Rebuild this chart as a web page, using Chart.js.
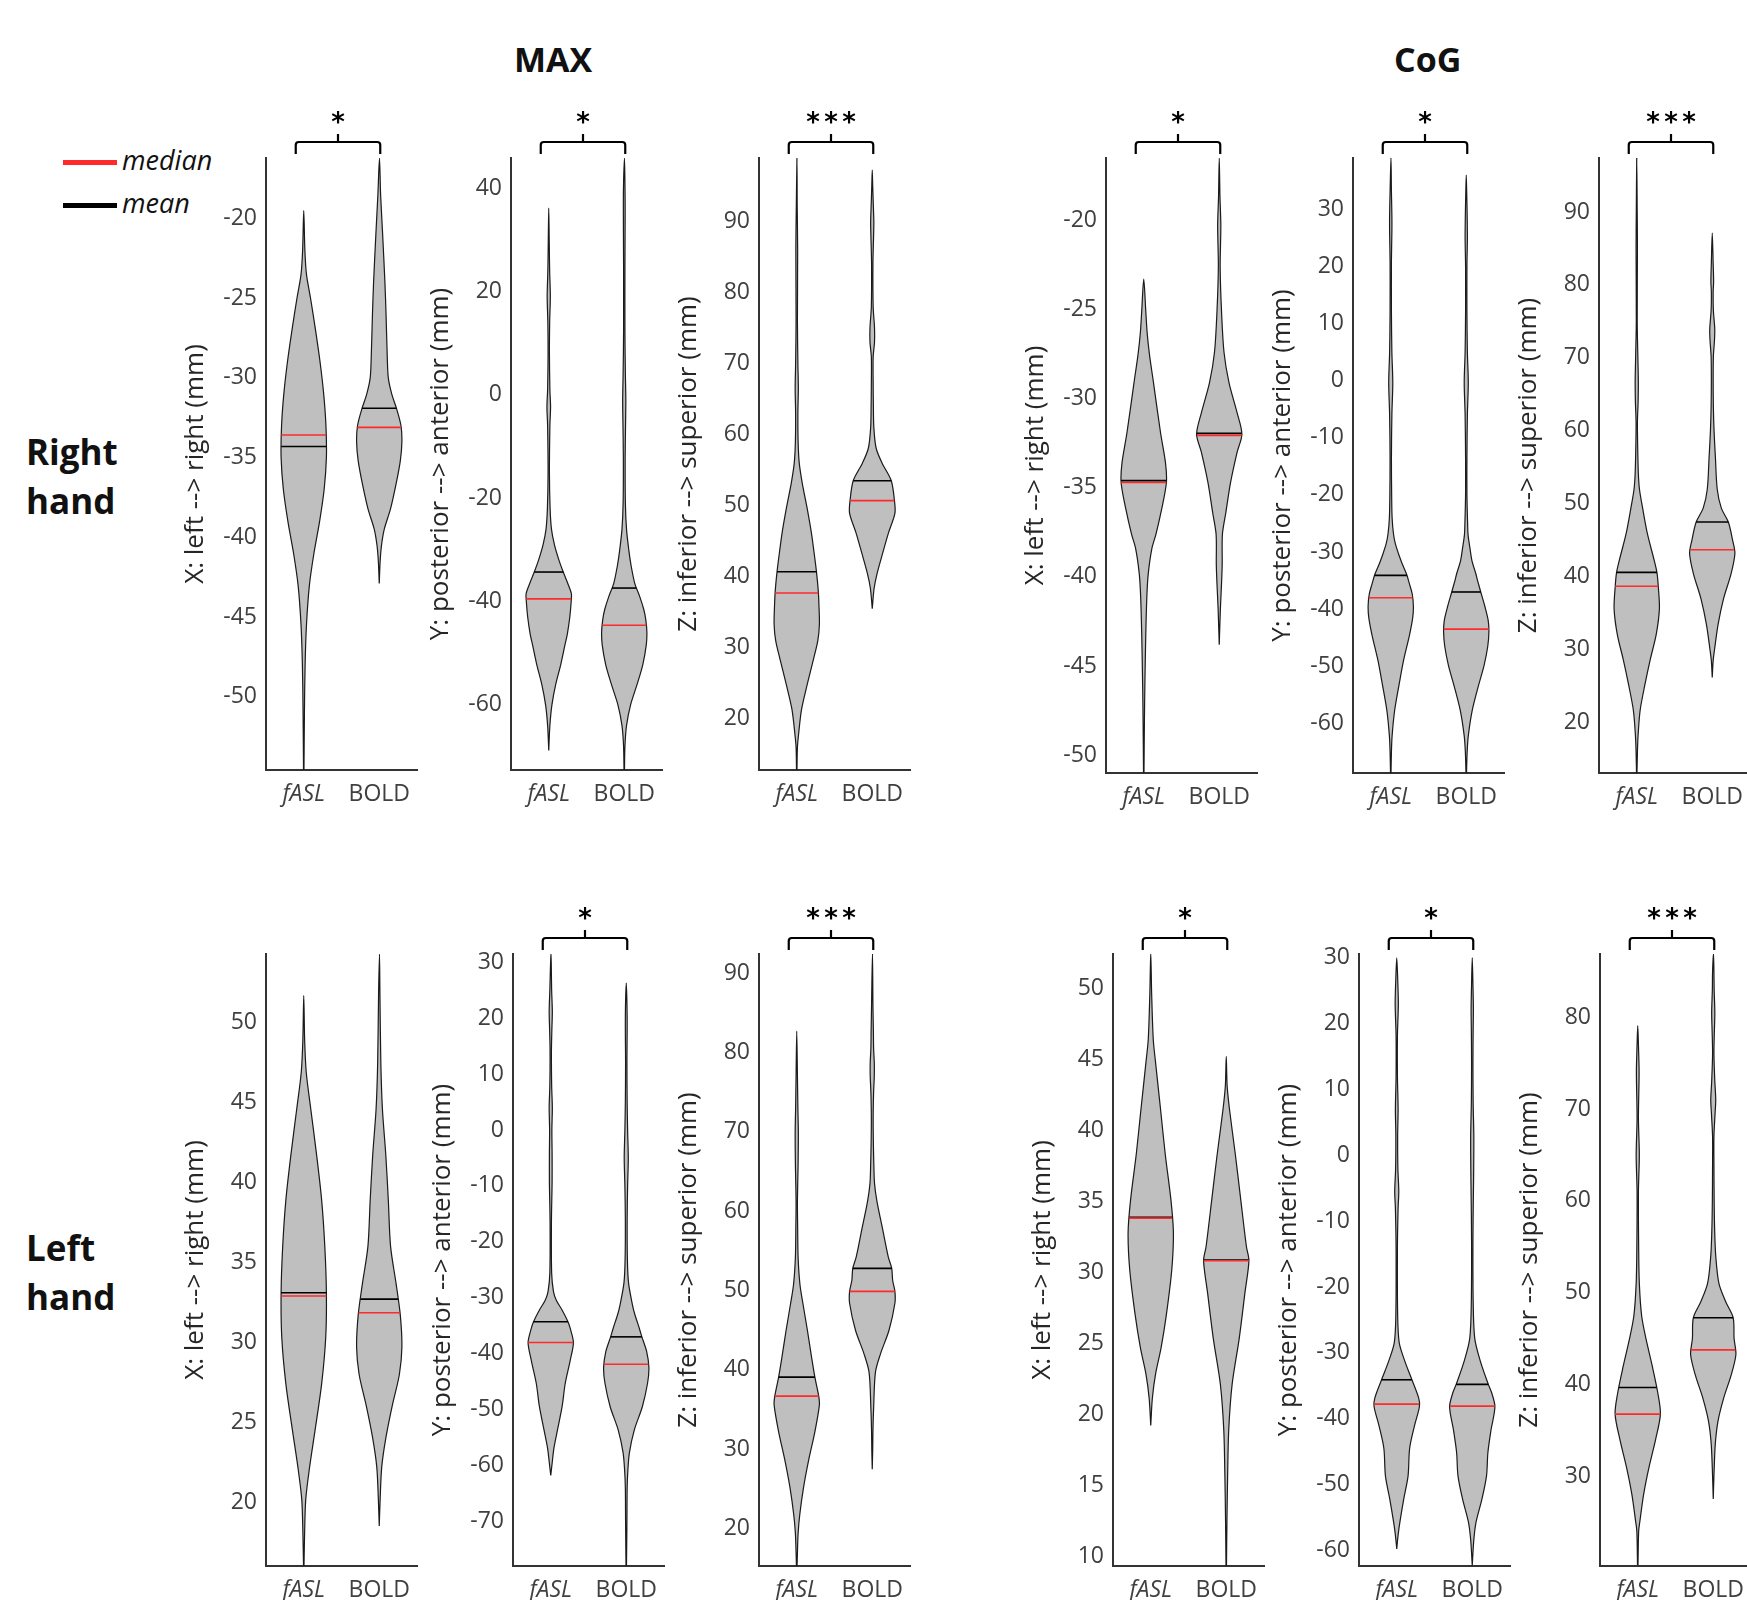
<!DOCTYPE html>
<html><head><meta charset="utf-8">
<script src="https://cdn.jsdelivr.net/npm/chart.js@4.4.1/dist/chart.umd.min.js"></script>
<style>
html,body{margin:0;padding:0;background:#fff;overflow:hidden;width:1747px;height:1600px;}
#wrap{position:relative;width:1747px;height:1600px;overflow:hidden;}
canvas{position:absolute;}
.t{position:absolute;font-family:'Open Sans',sans-serif;color:#111;white-space:nowrap;line-height:1;}
.bold{font-weight:700;}
.sw{position:absolute;height:5px;}
</style></head><body><div id="wrap">
<div class="t bold" style="left:514px;top:42px;font-size:34px;">MAX</div>
<div class="t bold" style="left:1394px;top:42px;font-size:34px;">CoG</div>
<div class="t bold" style="left:26px;top:434px;font-size:35px;">Right</div>
<div class="t bold" style="left:26px;top:483px;font-size:35px;">hand</div>
<div class="t bold" style="left:26px;top:1230px;font-size:35px;">Left</div>
<div class="t bold" style="left:26px;top:1279px;font-size:35px;">hand</div>
<div class="sw" style="left:63px;top:160px;width:54px;background:#ff2a2a;"></div>
<div class="t" style="left:122px;top:146px;font-size:27px;font-style:italic;">median</div>
<div class="sw" style="left:63px;top:203px;width:54px;background:#000;"></div>
<div class="t" style="left:122px;top:189px;font-size:27px;font-style:italic;">mean</div>
</div>
<script>
// ---------- DATA ----------
const GROUPS = ['fASL', 'BOLD'];
const TITLE_X = 'X: left --> right (mm)';
const TITLE_Y = 'Y: posterior --> anterior (mm)';
const TITLE_Z = 'Z: inferior --> superior (mm)';
const SIG = ['*', '*', '***', '*', '*', '***', '', '*', '***', '*', '*', '***'];

// violin profiles: [value (mm), relative density width]
const RH_MAX_X_FASL = [[-54.6,0.01],[-51,0.03],[-48,0.06],[-45.5,0.12],[-43,0.25],[-41,0.45],[-39,0.7],[-37,0.9],[-35,1.0],[-33,0.98],[-31,0.88],[-29,0.72],[-27,0.52],[-25,0.3],[-23.5,0.12],[-22,0.05],[-19.5,0]];
const RH_MAX_X_BOLD = [[-42.9,0],[-41.5,0.04],[-40.5,0.1],[-39.5,0.22],[-38.2,0.5],[-36.6,0.75],[-35.2,0.93],[-34,1.0],[-33,0.96],[-32,0.78],[-31,0.55],[-30,0.4],[-28.5,0.35],[-26,0.3],[-24,0.25],[-21,0.15],[-18.5,0.06],[-16.2,0.01]];
const RH_MAX_X_MEAN = [-34.3, -31.9];
const RH_MAX_X_MEDIAN = [-33.58, -33.1];
const RH_MAX_X_TICKS = [-50, -45, -40, -35, -30, -25, -20];
const RH_MAX_X_RANGE = [-54.6, -16.2];

const RH_MAX_Y_FASL = [[-68.8,0],[-64,0.05],[-60,0.14],[-56,0.31],[-52.2,0.53],[-48.3,0.72],[-46.3,0.82],[-43,0.93],[-40,0.99],[-38.5,1.0],[-36.6,0.85],[-34.3,0.64],[-32,0.45],[-29,0.25],[-26,0.12],[-22,0.06],[-15,0.03],[-6,0.05],[-2.4,0.08],[1,0.05],[8,0.03],[14,0.04],[19,0.07],[24,0.04],[30,0.02],[36.1,0]];
const RH_MAX_Y_BOLD = [[-72.6,0.01],[-68,0.03],[-64,0.1],[-60,0.28],[-56,0.57],[-52.2,0.82],[-48.5,0.97],[-46,1.0],[-43.5,0.95],[-41.5,0.86],[-39,0.68],[-36.6,0.47],[-33,0.3],[-30,0.2],[-26,0.1],[-21,0.05],[-12,0.04],[-5,0.06],[-1,0.07],[4,0.05],[12,0.03],[25,0.03],[36,0.04],[41,0.03],[45.8,0.01]];
const RH_MAX_Y_MEAN = [-34.3, -37.4];
const RH_MAX_Y_MEDIAN = [-39.5, -44.6];
const RH_MAX_Y_TICKS = [-60, -40, -20, 0, 20, 40];
const RH_MAX_Y_RANGE = [-72.6, 45.8];

const RH_MAX_Z_FASL = [[12.8,0.01],[16,0.03],[17.8,0.08],[21.3,0.21],[24.8,0.46],[28.4,0.74],[31,0.93],[33.3,1.0],[36,0.98],[38,0.95],[40.7,0.87],[43.5,0.76],[46.1,0.65],[49.6,0.46],[53.2,0.24],[56,0.11],[59,0.06],[63,0.05],[66.5,0.07],[70,0.05],[76,0.03],[86,0.04],[92,0.02],[98.85,0.01]];
const RH_MAX_Z_BOLD = [[35.5,0],[38.3,0.08],[40.4,0.21],[43.3,0.46],[46.1,0.71],[48.9,1.0],[50.7,0.98],[53.5,0.84],[56,0.43],[58.1,0.17],[61,0.07],[64,0.05],[67,0.04],[70.9,0.04],[73,0.1],[75,0.1],[78,0.04],[84,0.03],[88,0.06],[90,0.07],[92,0.05],[95,0.02],[97.2,0]];
const RH_MAX_Z_MEAN = [40.7, 53.5];
const RH_MAX_Z_MEDIAN = [37.7, 50.7];
const RH_MAX_Z_TICKS = [20, 30, 40, 50, 60, 70, 80, 90];
const RH_MAX_Z_RANGE = [12.8, 98.9];

const RH_COG_X_FASL = [[-51,0.01],[-48,0.03],[-46,0.05],[-43.2,0.09],[-41,0.14],[-39.8,0.2],[-38.4,0.36],[-37.6,0.54],[-36.2,0.79],[-34.7,1.0],[-33.6,0.96],[-31.9,0.74],[-29.1,0.43],[-27.5,0.25],[-26.3,0.15],[-25.1,0.09],[-23.3,0]];
const RH_COG_X_BOLD = [[-43.8,0],[-41.8,0.05],[-40.4,0.1],[-39.3,0.13],[-37.6,0.14],[-36.4,0.29],[-34.7,0.5],[-33,0.79],[-32,1.0],[-30.8,0.79],[-29.1,0.43],[-27.4,0.21],[-25.1,0.1],[-22.6,0.04],[-20.3,0.07],[-18.6,0.03],[-16.5,0]];
const RH_COG_X_MEAN = [-34.6, -31.95];
const RH_COG_X_MEDIAN = [-34.7, -32.06];
const RH_COG_X_TICKS = [-50, -45, -40, -35, -30, -25, -20];
const RH_COG_X_RANGE = [-51, -16.5];

const RH_COG_Y_FASL = [[-68.85,0.01],[-65,0.03],[-62.2,0.06],[-57.8,0.17],[-53.4,0.36],[-48.9,0.57],[-44.5,0.83],[-41.5,0.97],[-39.5,1.0],[-37.4,0.95],[-35.5,0.82],[-33.9,0.7],[-32,0.5],[-30.4,0.35],[-28.5,0.2],[-26.8,0.12],[-24,0.06],[-20,0.04],[-13.5,0.03],[-6,0.05],[-0.3,0.09],[5,0.05],[12,0.03],[21,0.03],[26,0.05],[29,0.05],[33,0.03],[39.1,0.01]];
const RH_COG_Y_BOLD = [[-68.85,0.01],[-65,0.04],[-62.2,0.09],[-57.8,0.26],[-53.4,0.54],[-49.8,0.79],[-46.5,0.95],[-44,1.0],[-42,0.97],[-39.5,0.82],[-37,0.64],[-35,0.5],[-33.9,0.43],[-31.5,0.25],[-29.5,0.17],[-27,0.08],[-25,0.06],[-20,0.03],[-13.5,0.03],[-6,0.05],[-0.3,0.09],[5,0.05],[12,0.03],[20,0.03],[25,0.05],[29,0.04],[33,0.02],[36,0]];
const RH_COG_Y_MEAN = [-34.1, -37];
const RH_COG_Y_MEDIAN = [-38, -43.5];
const RH_COG_Y_TICKS = [-60, -50, -40, -30, -20, -10, 0, 10, 20, 30];
const RH_COG_Y_RANGE = [-68.7, 39];

const RH_COG_Z_FASL = [[13.1,0.01],[16,0.03],[18.3,0.06],[21.7,0.15],[25.2,0.36],[28.7,0.6],[32.1,0.86],[35.6,1.0],[38.7,0.95],[40.6,0.89],[42.5,0.75],[45.9,0.47],[49.4,0.26],[52,0.12],[54.2,0.07],[58,0.04],[61.2,0.03],[64,0.06],[66.7,0.07],[70,0.05],[75,0.02],[85,0.03],[90,0.02],[97.5,0]];
const RH_COG_Z_BOLD = [[26.2,0],[28.5,0.04],[30,0.1],[33.5,0.26],[37,0.5],[40.4,0.83],[43.2,1.0],[45,0.9],[47.5,0.71],[49.4,0.4],[52,0.22],[56.3,0.14],[60,0.08],[63.2,0.05],[67,0.04],[70.2,0.05],[72.5,0.1],[74,0.11],[76.5,0.05],[79,0.04],[80.5,0.06],[83,0.04],[87.1,0]];
const RH_COG_Z_MEAN = [40.6, 47.5];
const RH_COG_Z_MEDIAN = [38.7, 43.7];
const RH_COG_Z_TICKS = [20, 30, 40, 50, 60, 70, 80, 90];
const RH_COG_Z_RANGE = [13.1, 97.4];

const LH_MAX_X_FASL = [[16,0.01],[18.2,0.04],[20.2,0.09],[22.2,0.26],[24.5,0.5],[27.4,0.79],[30.3,0.97],[33.1,1.0],[36,0.93],[38.9,0.79],[41.7,0.57],[44.6,0.31],[46.9,0.11],[48.9,0.04],[51.7,0]];
const LH_MAX_X_BOLD = [[18.5,0],[20.2,0.04],[22.2,0.11],[24,0.29],[26,0.57],[28,0.89],[29.7,1.0],[31.7,0.93],[33.7,0.74],[36,0.5],[38.9,0.4],[41.7,0.29],[44.6,0.14],[47.5,0.07],[51.8,0.03],[54.3,0.01]];
const LH_MAX_X_MEAN = [33.1, 32.7];
const LH_MAX_X_MEDIAN = [32.9, 31.85];
const LH_MAX_X_TICKS = [20, 25, 30, 35, 40, 45, 50];
const LH_MAX_X_RANGE = [16, 54.3];

const LH_MAX_Y_FASL = [[-61.8,0],[-59.3,0.07],[-56.9,0.14],[-53.6,0.3],[-49.5,0.5],[-45.3,0.64],[-41.2,0.86],[-38,1.0],[-35.5,0.86],[-34.3,0.76],[-32.2,0.5],[-30.5,0.25],[-28.9,0.12],[-25.6,0.04],[-16.6,0.03],[-9.2,0.06],[-4.3,0.06],[0,0.05],[4,0.07],[8,0.04],[14,0.03],[18,0.05],[21.2,0.07],[25,0.04],[31.9,0.01]];
const LH_MAX_Y_BOLD = [[-78,0.01],[-70,0.03],[-64,0.04],[-61,0.07],[-57.7,0.14],[-53.6,0.36],[-49.5,0.71],[-45.3,0.94],[-42.5,1.0],[-39.6,0.9],[-37,0.69],[-35.5,0.58],[-33,0.38],[-31.4,0.28],[-27.3,0.1],[-23,0.05],[-16,0.04],[-10,0.06],[-5,0.09],[0,0.06],[5,0.04],[12,0.03],[20,0.04],[26.3,0]];
const LH_MAX_Y_MEAN = [-34.3, -37];
const LH_MAX_Y_MEDIAN = [-38, -41.9];
const LH_MAX_Y_TICKS = [-70, -60, -50, -40, -30, -20, -10, 0, 10, 20, 30];
const LH_MAX_Y_RANGE = [-78, 31.5];

const LH_MAX_Z_FASL = [[14.9,0.01],[17,0.03],[19.4,0.06],[21.7,0.13],[25.2,0.3],[28.7,0.53],[32.2,0.8],[35.6,1.0],[36.7,0.97],[39.1,0.8],[41.5,0.66],[45,0.47],[48.4,0.27],[50.8,0.14],[54.2,0.06],[58,0.04],[61.2,0.03],[66,0.06],[69.9,0.07],[73,0.05],[77,0.03],[82.7,0]];
const LH_MAX_Z_BOLD = [[27.5,0],[30,0.02],[32.2,0.03],[35.1,0.06],[39.7,0.14],[42,0.36],[45,0.74],[48.4,1.0],[49.9,1.0],[51.3,0.9],[52.8,0.86],[54.2,0.71],[57.7,0.46],[61.2,0.21],[63.5,0.1],[65.9,0.07],[68.5,0.05],[71.7,0.04],[75,0.06],[77,0.09],[78.7,0.09],[80.5,0.06],[82.7,0.05],[86,0.03],[92.6,0.01]];
const LH_MAX_Z_MEAN = [39.1, 52.8];
const LH_MAX_Z_MEDIAN = [36.7, 49.9];
const LH_MAX_Z_TICKS = [20, 30, 40, 50, 60, 70, 80, 90];
const LH_MAX_Z_RANGE = [15.3, 92.4];

const LH_COG_X_FASL = [[19.2,0],[21.1,0.07],[22.8,0.21],[24.7,0.46],[27,0.69],[30.2,0.93],[32.8,1.0],[35.1,0.89],[38.3,0.64],[41.5,0.43],[44.8,0.21],[46.4,0.11],[49.6,0.04],[52.5,0]];
const LH_COG_X_BOLD = [[9.3,0.01],[12.4,0.03],[15.6,0.06],[18.9,0.11],[22.1,0.26],[25.3,0.57],[28.6,0.83],[30.8,1.0],[31.8,0.89],[35.1,0.64],[38.3,0.4],[41.5,0.14],[43.1,0.04],[45.2,0]];
const LH_COG_X_MEAN = [33.85, 30.85];
const LH_COG_X_MEDIAN = [33.8, 30.8];
const LH_COG_X_TICKS = [10, 15, 20, 25, 30, 35, 40, 45, 50];
const LH_COG_X_RANGE = [9.3, 52.4];

const LH_COG_Y_FASL = [[-59.8,0],[-57.7,0.06],[-55.7,0.14],[-52.2,0.31],[-48.7,0.5],[-44.5,0.57],[-41,0.79],[-38.2,1.0],[-36.9,0.97],[-34.1,0.67],[-31.3,0.36],[-28.5,0.11],[-24.3,0.04],[-13.9,0.03],[-8,0.06],[-5.5,0.09],[-2,0.05],[3,0.04],[7,0.06],[12,0.03],[18.2,0.03],[23,0.07],[27,0.04],[30,0]];
const LH_COG_Y_BOLD = [[-62.3,0],[-58.4,0.07],[-55.7,0.17],[-52.2,0.43],[-48.7,0.63],[-45.2,0.69],[-41.7,0.83],[-38.2,1.0],[-36,0.85],[-34.8,0.71],[-31.3,0.36],[-27.8,0.11],[-22,0.04],[-13,0.03],[-6,0.05],[-3.4,0.06],[2.8,0.07],[8,0.04],[14,0.03],[19,0.04],[22.3,0.05],[26,0.03],[30,0]];
const LH_COG_Y_MEAN = [-34.1, -34.8];
const LH_COG_Y_MEDIAN = [-37.8, -38.1];
const LH_COG_Y_TICKS = [-60, -50, -40, -30, -20, -10, 0, 10, 20, 30];
const LH_COG_Y_RANGE = [-62.4, 30.6];

const LH_COG_Z_FASL = [[20.25,0.01],[24,0.04],[25,0.09],[28,0.26],[31,0.5],[34,0.79],[36.75,1.0],[39,0.89],[42,0.64],[45,0.36],[47.5,0.17],[51,0.07],[55,0.04],[61,0.03],[65,0.07],[69,0.03],[74,0.06],[77,0.03],[79.1,0]];
const LH_COG_Z_BOLD = [[27.5,0],[30,0.03],[33.5,0.09],[36,0.21],[38.5,0.46],[41,0.79],[43.25,1.0],[45,0.92],[47.25,0.88],[49,0.55],[51,0.25],[54,0.11],[57,0.06],[60,0.04],[64,0.03],[67,0.03],[69.5,0.08],[71,0.11],[73,0.07],[76,0.03],[78.5,0.05],[80.5,0.07],[83,0.04],[85,0.03],[87,0.01]];
const LH_COG_Z_MEAN = [39.65, 47.25];
const LH_COG_Z_MEDIAN = [36.75, 43.75];
const LH_COG_Z_TICKS = [30, 40, 50, 60, 70, 80];
const LH_COG_Z_RANGE = [20.2, 86.9];

// ---------- LAYOUT (pixel positions of each panel: y-axis x, plot top, plot bottom) ----------
const PANELS = [
  {f: RH_MAX_X_FASL, b: RH_MAX_X_BOLD, mean: RH_MAX_X_MEAN, med: RH_MAX_X_MEDIAN, ticks: RH_MAX_X_TICKS, range: RH_MAX_X_RANGE, title: TITLE_X, pos: [266, 158, 770]},
  {f: RH_MAX_Y_FASL, b: RH_MAX_Y_BOLD, mean: RH_MAX_Y_MEAN, med: RH_MAX_Y_MEDIAN, ticks: RH_MAX_Y_TICKS, range: RH_MAX_Y_RANGE, title: TITLE_Y, pos: [511, 158, 770]},
  {f: RH_MAX_Z_FASL, b: RH_MAX_Z_BOLD, mean: RH_MAX_Z_MEAN, med: RH_MAX_Z_MEDIAN, ticks: RH_MAX_Z_TICKS, range: RH_MAX_Z_RANGE, title: TITLE_Z, pos: [759, 158, 770]},
  {f: RH_COG_X_FASL, b: RH_COG_X_BOLD, mean: RH_COG_X_MEAN, med: RH_COG_X_MEDIAN, ticks: RH_COG_X_TICKS, range: RH_COG_X_RANGE, title: TITLE_X, pos: [1106, 158, 773]},
  {f: RH_COG_Y_FASL, b: RH_COG_Y_BOLD, mean: RH_COG_Y_MEAN, med: RH_COG_Y_MEDIAN, ticks: RH_COG_Y_TICKS, range: RH_COG_Y_RANGE, title: TITLE_Y, pos: [1353, 158, 773]},
  {f: RH_COG_Z_FASL, b: RH_COG_Z_BOLD, mean: RH_COG_Z_MEAN, med: RH_COG_Z_MEDIAN, ticks: RH_COG_Z_TICKS, range: RH_COG_Z_RANGE, title: TITLE_Z, pos: [1599, 158, 773]},
  {f: LH_MAX_X_FASL, b: LH_MAX_X_BOLD, mean: LH_MAX_X_MEAN, med: LH_MAX_X_MEDIAN, ticks: LH_MAX_X_TICKS, range: LH_MAX_X_RANGE, title: TITLE_X, pos: [266, 954, 1566]},
  {f: LH_MAX_Y_FASL, b: LH_MAX_Y_BOLD, mean: LH_MAX_Y_MEAN, med: LH_MAX_Y_MEDIAN, ticks: LH_MAX_Y_TICKS, range: LH_MAX_Y_RANGE, title: TITLE_Y, pos: [513, 954, 1566]},
  {f: LH_MAX_Z_FASL, b: LH_MAX_Z_BOLD, mean: LH_MAX_Z_MEAN, med: LH_MAX_Z_MEDIAN, ticks: LH_MAX_Z_TICKS, range: LH_MAX_Z_RANGE, title: TITLE_Z, pos: [759, 954, 1566]},
  {f: LH_COG_X_FASL, b: LH_COG_X_BOLD, mean: LH_COG_X_MEAN, med: LH_COG_X_MEDIAN, ticks: LH_COG_X_TICKS, range: LH_COG_X_RANGE, title: TITLE_X, pos: [1113, 954, 1566]},
  {f: LH_COG_Y_FASL, b: LH_COG_Y_BOLD, mean: LH_COG_Y_MEAN, med: LH_COG_Y_MEDIAN, ticks: LH_COG_Y_TICKS, range: LH_COG_Y_RANGE, title: TITLE_Y, pos: [1359, 954, 1566]},
  {f: LH_COG_Z_FASL, b: LH_COG_Z_BOLD, mean: LH_COG_Z_MEAN, med: LH_COG_Z_MEDIAN, ticks: LH_COG_Z_TICKS, range: LH_COG_Z_RANGE, title: TITLE_Z, pos: [1600, 954, 1566]}
];

const HALF = 0.3;          // max half-width of a violin in x units
const YAXIS_W = 90, XAXIS_H = 44, TOP_PAD = 70, PLOT_W = 151, RIGHT_PAD = 8;
const FONT = "'Open Sans', 'DejaVu Sans', sans-serif";

function outline(profile, c) {
  const right = profile.map(([v, w]) => ({x: c + w * HALF, y: v}));
  const left = profile.slice(0, -1).reverse().map(([v, w]) => ({x: c - w * HALF, y: v}));
  return right.concat(left);
}
function widthAt(profile, m) {
  for (let i = 0; i < profile.length - 1; i++) {
    const [v0, w0] = profile[i], [v1, w1] = profile[i + 1];
    if (m >= v0 && m <= v1) return w0 + (w1 - w0) * (m - v0) / (v1 - v0);
  }
  return 0;
}
function statLine(profile, c, m, color, order) {
  const hw = widthAt(profile, m) * HALF;
  return {data: [{x: c - hw, y: m}, {x: c + hw, y: m}], borderColor: color, borderWidth: 1.6,
          pointRadius: 0, fill: false, tension: 0, order: order};
}

const bracketPlugin = {
  id: 'sigBracket',
  afterDraw(chart, args, opts) {
    const stars = opts.stars;
    if (!stars) return;
    const {ctx, chartArea, scales} = chart;
    const x1 = scales.x.getPixelForValue(1) - 8, x2 = scales.x.getPixelForValue(2) + 1;
    const xm = (x1 + x2) / 2;
    const yLine = chartArea.top - 16, yLeg = chartArea.top - 4, yTick = chartArea.top - 24;
    ctx.save();
    ctx.strokeStyle = '#000'; ctx.lineWidth = 2.2; ctx.lineJoin = 'round';
    ctx.beginPath();
    ctx.moveTo(x1, yLeg); ctx.arcTo(x1, yLine, x1 + 4, yLine, 3);
    ctx.lineTo(x2 - 4, yLine); ctx.arcTo(x2, yLine, x2, yLeg, 3); ctx.lineTo(x2, yLeg);
    ctx.moveTo(xm, yLine); ctx.lineTo(xm, yTick);
    ctx.stroke();
    ctx.fillStyle = '#000'; ctx.font = "bold 26px 'DejaVu Sans'"; ctx.textAlign = 'center'; ctx.textBaseline = 'alphabetic';
    const n = stars.length, sp = 18;
    for (let i = 0; i < n; i++) ctx.fillText('*', xm + (i - (n - 1) / 2) * sp, chartArea.top - 40 + 13);
    ctx.restore();
  }
};

const wrap = document.getElementById('wrap');
PANELS.forEach((p, idx) => {
  const [ax, top, bottom] = p.pos;
  const cv = document.createElement('canvas');
  const W = YAXIS_W + PLOT_W + RIGHT_PAD, H = TOP_PAD + (bottom - top) + XAXIS_H;
  cv.width = W; cv.height = H;
  cv.style.left = (ax - YAXIS_W) + 'px'; cv.style.top = (top - TOP_PAD) + 'px';
  cv.style.width = W + 'px'; cv.style.height = H + 'px';
  wrap.appendChild(cv);

  const violinStyle = {borderColor: '#1a1a1a', borderWidth: 1.2, backgroundColor: '#bfbfbf',
                       fill: 'shape', pointRadius: 0, tension: 0.3, order: 3};
  const datasets = [
    statLine(p.f, 1, p.med[0], '#ff2a2a', 1),
    statLine(p.b, 2, p.med[1], '#ff2a2a', 1),
    statLine(p.f, 1, p.mean[0], '#000', 2),
    statLine(p.b, 2, p.mean[1], '#000', 2),
    Object.assign({data: outline(p.f, 1)}, violinStyle),
    Object.assign({data: outline(p.b, 2)}, violinStyle)
  ];

  new Chart(cv, {
    type: 'line',
    data: {datasets},
    plugins: [bracketPlugin],
    options: {
      responsive: false, animation: false, devicePixelRatio: 1, events: [],
      layout: {padding: {top: TOP_PAD, right: RIGHT_PAD, left: 0, bottom: 0}},
      plugins: {legend: {display: false}, tooltip: {enabled: false}, sigBracket: {stars: SIG[idx]}},
      scales: {
        x: {
          type: 'linear', min: 0.5, max: 2.5,
          grid: {display: false, drawTicks: false},
          border: {display: true, color: '#333', width: 2},
          afterBuildTicks: s => { s.ticks = [{value: 1}, {value: 2}]; },
          afterFit: s => { s.height = XAXIS_H; },
          ticks: {
            padding: 11, color: '#404040', autoSkip: false, maxRotation: 0,
            callback: v => GROUPS[Math.round(v) - 1],
            font: c => ({family: FONT, size: 23, style: c.index === 0 ? 'italic' : 'normal'})
          }
        },
        y: {
          type: 'linear', min: p.range[0], max: p.range[1],
          grid: {display: false, drawTicks: false},
          border: {display: true, color: '#333', width: 2},
          afterBuildTicks: s => { s.ticks = p.ticks.map(v => ({value: v})); },
          afterFit: s => { s.width = YAXIS_W; },
          ticks: {padding: 9, color: '#404040', font: {family: FONT, size: 23}},
          title: {display: true, text: p.title, color: '#262626', padding: {top: 4, bottom: 0},
                  font: {family: FONT, size: 26}}
        }
      }
    }
  });
});
</script>
</body></html>
